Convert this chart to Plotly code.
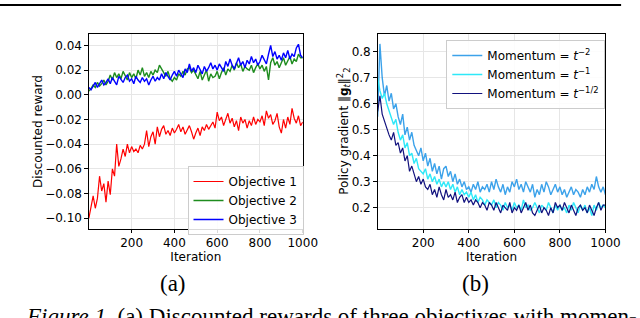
import plotly.graph_objects as go

# ---------------- data ----------------
iterations = list(range(0, 1001, 10))

objective_1 = [
    -0.100, -0.090, -0.082, -0.092, -0.084, -0.066, -0.078, -0.072, -0.087, -0.070,
    -0.081, -0.060, -0.066, -0.040, -0.058, -0.052, -0.044, -0.050, -0.040, -0.047,
    -0.042, -0.046, -0.044, -0.047, -0.041, -0.044, -0.040, -0.029, -0.042, -0.034,
    -0.030, -0.040, -0.026, -0.034, -0.028, -0.025, -0.032, -0.029, -0.033, -0.027,
    -0.031, -0.028, -0.024, -0.030, -0.026, -0.032, -0.028, -0.025, -0.030, -0.036,
    -0.031, -0.027, -0.033, -0.026, -0.029, -0.024, -0.028, -0.025, -0.022, -0.027,
    -0.014, -0.021, -0.018, -0.025, -0.020, -0.015, -0.023, -0.019, -0.026, -0.021,
    -0.029, -0.018, -0.023, -0.020, -0.027, -0.021, -0.025, -0.018, -0.024, -0.020,
    -0.022, -0.017, -0.025, -0.013, -0.019, -0.016, -0.024, -0.021, -0.015, -0.026,
    -0.031, -0.020, -0.027, -0.018, -0.024, -0.011, -0.019, -0.023, -0.017, -0.025,
    -0.022,
]
objective_2 = [
    0.003, 0.005, 0.008, 0.006, 0.010, 0.007, 0.009, 0.012, 0.008, 0.011,
    0.016, 0.012, 0.018, 0.014, 0.017, 0.013, 0.019, 0.015, 0.012, 0.018,
    0.014, 0.017, 0.013, 0.020, 0.016, 0.022, 0.015, 0.018, 0.014, 0.019,
    0.016, 0.020, 0.018, 0.024, 0.021, 0.017, 0.015, 0.019, 0.013, 0.011,
    0.014, 0.012, 0.017, 0.015, 0.019, 0.016, 0.021, 0.022, 0.018, 0.020,
    0.017, 0.013, 0.019, 0.012, 0.016, 0.020, 0.011, 0.017, 0.014, 0.015,
    0.019, 0.013, 0.018, 0.022, 0.016, 0.021, 0.019, 0.024, 0.020, 0.026,
    0.022, 0.025, 0.019, 0.023, 0.021, 0.020, 0.024, 0.018, 0.022, 0.025,
    0.021, 0.024, 0.019, 0.023, 0.012, 0.026, 0.030, 0.024, 0.027, 0.022,
    0.026, 0.030, 0.024, 0.028, 0.031, 0.025, 0.029, 0.027, 0.033, 0.030,
    0.030,
]
objective_3 = [
    0.006, 0.004, 0.007, 0.010, 0.006, 0.009, 0.012, 0.008, 0.010, 0.013,
    0.009, 0.014, 0.011, 0.008, 0.015, 0.012, 0.010, 0.014, 0.016, 0.011,
    0.013, 0.009, 0.015, 0.012, 0.010, 0.014, 0.011, 0.013, 0.008, 0.012,
    0.015, 0.011, 0.014, 0.012, 0.017, 0.013, 0.018, 0.015, 0.012, 0.016,
    0.019, 0.015, 0.020, 0.017, 0.014, 0.021, 0.018, 0.025, 0.019, 0.022,
    0.018, 0.024, 0.020, 0.017, 0.023, 0.019, 0.022, 0.026, 0.021, 0.024,
    0.020, 0.025, 0.022, 0.019, 0.027, 0.023, 0.029, 0.024, 0.021, 0.026,
    0.030, 0.024, 0.027, 0.022, 0.028, 0.025, 0.031, 0.026, 0.029, 0.024,
    0.027, 0.032, 0.028, 0.025, 0.033, 0.040, 0.031, 0.035, 0.029, 0.032,
    0.028, 0.034, 0.030, 0.036, 0.029, 0.033, 0.031, 0.038, 0.041, 0.032,
    0.030,
]

momentum_t_2 = [
    0.55, 0.83, 0.70, 0.63, 0.67, 0.61, 0.64, 0.58, 0.60, 0.55,
    0.52, 0.56, 0.48, 0.51, 0.46, 0.49, 0.44, 0.42, 0.40, 0.43,
    0.38, 0.41, 0.36, 0.39, 0.34, 0.37, 0.33, 0.36, 0.31, 0.35,
    0.36, 0.32, 0.34, 0.30, 0.33, 0.29, 0.31, 0.28, 0.30, 0.27,
    0.28, 0.26, 0.29, 0.27, 0.30, 0.26, 0.28, 0.27, 0.29, 0.26,
    0.30, 0.27, 0.31, 0.28, 0.26, 0.29, 0.25, 0.28, 0.26, 0.30,
    0.28, 0.31, 0.27, 0.29, 0.26, 0.30, 0.28, 0.26, 0.29, 0.24,
    0.27, 0.25, 0.29, 0.26, 0.30, 0.28, 0.25, 0.27, 0.29, 0.26,
    0.28, 0.25, 0.27, 0.24, 0.26, 0.28, 0.25, 0.27, 0.26, 0.24,
    0.27, 0.25, 0.28, 0.26, 0.29, 0.27, 0.32, 0.28, 0.26, 0.28,
    0.25,
]
momentum_t_1 = [
    0.70, 0.65, 0.62, 0.64, 0.60, 0.57, 0.55, 0.52, 0.54, 0.49,
    0.46, 0.48, 0.43, 0.45, 0.40, 0.41, 0.37, 0.39, 0.35, 0.34,
    0.33, 0.35, 0.31, 0.33, 0.30, 0.32, 0.29, 0.31, 0.28, 0.30,
    0.28, 0.30, 0.27, 0.29, 0.26, 0.28, 0.25, 0.27, 0.25, 0.26,
    0.24, 0.26, 0.23, 0.25, 0.22, 0.24, 0.23, 0.21, 0.23, 0.22,
    0.21, 0.23, 0.20, 0.22, 0.21, 0.19, 0.22, 0.20, 0.21, 0.19,
    0.22, 0.20, 0.21, 0.19, 0.23, 0.20, 0.21, 0.19, 0.20, 0.22,
    0.20, 0.18, 0.21, 0.20, 0.19, 0.22, 0.20, 0.18, 0.21, 0.19,
    0.21, 0.19, 0.20, 0.18, 0.21, 0.19, 0.22, 0.20, 0.18, 0.21,
    0.19, 0.21, 0.18, 0.20, 0.17, 0.21, 0.19, 0.22, 0.20, 0.21,
    0.20,
]
momentum_t_half = [
    0.57, 0.63, 0.56, 0.53, 0.50, 0.48, 0.46, 0.49, 0.44, 0.45,
    0.41, 0.43, 0.38, 0.40, 0.34, 0.36, 0.33, 0.30, 0.32, 0.29,
    0.31, 0.28, 0.27, 0.29, 0.25, 0.27, 0.24, 0.28, 0.25, 0.23,
    0.27, 0.24, 0.25, 0.23, 0.26, 0.22, 0.24, 0.25, 0.22, 0.24,
    0.22, 0.23, 0.21, 0.23, 0.22, 0.20, 0.22, 0.21, 0.19, 0.22,
    0.21, 0.19, 0.22, 0.20, 0.18, 0.21, 0.20, 0.19, 0.22, 0.18,
    0.20, 0.19, 0.21, 0.18, 0.20, 0.22, 0.19, 0.21, 0.18, 0.17,
    0.19, 0.21, 0.18, 0.20, 0.19, 0.17, 0.20, 0.18, 0.22, 0.20,
    0.21, 0.19, 0.22, 0.20, 0.18, 0.21, 0.19, 0.17, 0.20, 0.21,
    0.19, 0.20, 0.18, 0.21, 0.19, 0.17, 0.20, 0.22, 0.19, 0.21,
    0.21,
]

x_ticks = [200, 400, 600, 800, 1000]
y_ticks_a = [-0.10, -0.08, -0.06, -0.04, -0.02, 0.00, 0.02, 0.04]
y_ticks_b = [0.2, 0.3, 0.4, 0.5, 0.6, 0.7, 0.8]

# ---------------- figure ----------------
W, H = 640, 318
FONT = "DejaVu Sans"
SERIF = "Liberation Serif"

fig = go.Figure()

series_a = [
    ("Objective 1", objective_1, "#ff0000", 1.2),
    ("Objective 2", objective_2, "#1e8c1e", 1.4),
    ("Objective 3", objective_3, "#0000ff", 1.4),
]
for name, ys, col, w in series_a:
    fig.add_trace(go.Scatter(x=iterations, y=ys, mode="lines", name=name,
                             line=dict(color=col, width=w),
                             xaxis="x", yaxis="y", legend="legend"))

series_b = [
    ("Momentum = <i>t</i><sup>−2</sup>", momentum_t_2, "#3ca2ea", 1.4),
    ("Momentum = <i>t</i><sup>−1</sup>", momentum_t_1, "#2ee8f8", 1.4),
    ("Momentum = <i>t</i><sup>−1/2</sup>", momentum_t_half, "#12127e", 1.2),
]
for name, ys, col, w in series_b:
    fig.add_trace(go.Scatter(x=iterations, y=ys, mode="lines", name=name,
                             line=dict(color=col, width=w),
                             xaxis="x2", yaxis="y2", legend="legend2"))

def px_x(p):
    return p / W

def px_y(p):
    return 1 - p / H

ydom = [px_y(228.5), px_y(33.5)]

axis_common = dict(
    showline=True, linecolor="black", linewidth=1, mirror=True,
    ticks="outside", ticklen=3.5, tickwidth=0.8, tickcolor="black",
    showgrid=True, gridcolor="#e6e6e6", gridwidth=1, zeroline=False,
    tickfont=dict(family=FONT, size=12, color="black"),
)

fig.update_layout(
    width=W, height=H, autosize=False,
    margin=dict(l=0, r=0, t=0, b=0),
    paper_bgcolor="white", plot_bgcolor="white",
    font=dict(family=FONT, size=12, color="black"),
    xaxis=dict(domain=[px_x(91), px_x(310)], range=[0, 1000], tickvals=x_ticks,
               title=dict(text="Iteration", standoff=2,
                          font=dict(family=FONT, size=12)),
               anchor="y", **axis_common),
    yaxis=dict(domain=ydom, range=[-0.1084, 0.0497], tickvals=y_ticks_a,
               tickformat=".2f", anchor="x", **axis_common),
    xaxis2=dict(domain=[px_x(386.7), px_x(620)], range=[0, 1000], tickvals=x_ticks,
                title=dict(text="Iteration", standoff=2,
                           font=dict(family=FONT, size=12)),
                anchor="y2", **axis_common),
    yaxis2=dict(domain=ydom, range=[0.12, 0.87], tickvals=y_ticks_b,
                tickformat=".1f", anchor="x2", **axis_common),
    legend=dict(x=px_x(192), y=px_y(166), xanchor="left", yanchor="top",
                bgcolor="rgba(255,255,255,0.85)", bordercolor="#cccccc",
                borderwidth=1, font=dict(family=FONT, size=12, color="black"),
                tracegroupgap=0),
    legend2=dict(x=px_x(457), y=px_y(40), xanchor="left", yanchor="top",
                 bgcolor="rgba(255,255,255,0.85)", bordercolor="#cccccc",
                 borderwidth=1, font=dict(family=FONT, size=12, color="black"),
                 tracegroupgap=0),
    showlegend=True,
)

# y-axis titles, placed as rotated text beside their tick labels
fig.add_annotation(text="Discounted reward",
                   xref="paper", yref="paper", x=px_x(38.5), y=px_y(131.5),
                   xanchor="center", yanchor="middle", textangle=-90,
                   showarrow=False, font=dict(family=FONT, size=12, color="black"))
fig.add_annotation(text="Policy gradient ‖<b>g</b><sub><i>t</i></sub>‖<sup>2</sup><sub>2</sub>",
                   xref="paper", yref="paper", x=px_x(352), y=px_y(131),
                   xanchor="center", yanchor="middle", textangle=-90,
                   showarrow=False, font=dict(family=FONT, size=12, color="black"))

# rule at the top of the page
fig.add_shape(type="line", xref="paper", yref="paper",
              x0=0, x1=px_x(636), y0=px_y(5), y1=px_y(5),
              line=dict(color="black", width=2.2))

# panel labels and figure caption
fig.add_annotation(text="(a)", xref="paper", yref="paper",
                   x=px_x(177), y=px_y(283), xanchor="center", yanchor="middle",
                   showarrow=False, font=dict(family=SERIF, size=23, color="black"))
fig.add_annotation(text="(b)", xref="paper", yref="paper",
                   x=px_x(487), y=px_y(283), xanchor="center", yanchor="middle",
                   showarrow=False, font=dict(family=SERIF, size=23, color="black"))
fig.add_annotation(text="<i>Figure 1.</i> (a) Discounted rewards of three objectives with momen-",
                   xref="paper", yref="paper",
                   x=px_x(339), y=px_y(302), xanchor="center", yanchor="top",
                   showarrow=False, font=dict(family=SERIF, size=23, color="black"))

fig.write_html("out.html", config={"displayModeBar": False},
               post_script="document.body.style.margin='0px';document.body.style.overflow='hidden';")
